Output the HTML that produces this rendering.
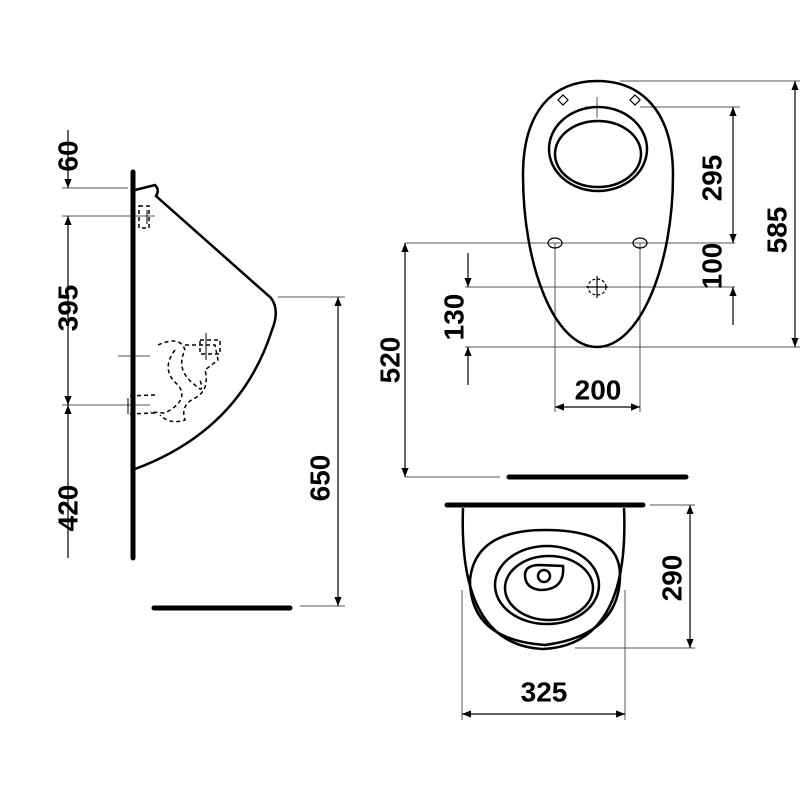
<!DOCTYPE html>
<html><head><style>html,body{margin:0;background:#fff}svg{display:block}
text{font-family:"Liberation Sans Narrow","Liberation Sans",sans-serif;font-weight:bold;font-size:28px;fill:#000;text-anchor:middle;dominant-baseline:central}</style></head>
<body>
<svg width="800" height="800" viewBox="0 0 800 800" xmlns="http://www.w3.org/2000/svg">
<defs>
<marker id="a" viewBox="0 0 10 10" refX="10" refY="5" markerWidth="12" markerHeight="9" orient="auto-start-reverse" markerUnits="userSpaceOnUse"><path d="M0,1 L10,5 L0,9Z" fill="#000"/></marker>
</defs>
<g stroke="#555" stroke-width="1" fill="none">
<line x1="62" y1="188" x2="128" y2="188"/><line x1="62" y1="216" x2="155" y2="216"/>
<line x1="62" y1="405" x2="150" y2="405"/><line x1="118" y1="356" x2="150" y2="356"/>
<line x1="278" y1="297" x2="345" y2="297"/><line x1="300" y1="606" x2="345" y2="606"/>
<line x1="620" y1="81" x2="800" y2="81"/><line x1="640" y1="107" x2="740" y2="107"/>
<line x1="405" y1="243" x2="735" y2="243"/><line x1="465" y1="287" x2="735" y2="287"/>
<line x1="465" y1="347" x2="800" y2="347"/>
<line x1="555" y1="243" x2="555" y2="412"/><line x1="640" y1="243" x2="640" y2="412"/>
<line x1="405" y1="477" x2="500" y2="477"/>
<line x1="650" y1="505" x2="695" y2="505"/><line x1="575" y1="648" x2="695" y2="648"/>
<line x1="462" y1="590" x2="462" y2="720"/><line x1="625" y1="590" x2="625" y2="720"/>
<line x1="597" y1="97" x2="597" y2="118"/><line x1="585" y1="107" x2="609" y2="107"/>
</g>
<g stroke="#000" stroke-width="1.2" fill="none">
<line x1="68" y1="130" x2="68" y2="188" marker-end="url(#a)"/>
<line x1="68" y1="216" x2="68" y2="405" marker-start="url(#a)" marker-end="url(#a)"/>
<line x1="68" y1="558" x2="68" y2="405" marker-end="url(#a)"/>
<line x1="338" y1="297" x2="338" y2="606" marker-start="url(#a)" marker-end="url(#a)"/>
<line x1="795" y1="81" x2="795" y2="347" marker-start="url(#a)" marker-end="url(#a)"/>
<line x1="733" y1="107" x2="733" y2="243" marker-start="url(#a)" marker-end="url(#a)"/>
<line x1="733" y1="325" x2="733" y2="287" marker-end="url(#a)"/>
<line x1="468" y1="253" x2="468" y2="287" marker-end="url(#a)"/>
<line x1="468" y1="385" x2="468" y2="347" marker-end="url(#a)"/>
<line x1="405" y1="243" x2="405" y2="477" marker-start="url(#a)" marker-end="url(#a)"/>
<line x1="555" y1="407" x2="640" y2="407" marker-start="url(#a)" marker-end="url(#a)"/>
<line x1="690" y1="505" x2="690" y2="648" marker-start="url(#a)" marker-end="url(#a)"/>
<line x1="462" y1="714" x2="625" y2="714" marker-start="url(#a)" marker-end="url(#a)"/>
</g>
<g stroke="#000" stroke-linecap="round" stroke-width="5">
<line x1="133" y1="172" x2="133" y2="558"/>
<line x1="154" y1="608" x2="290" y2="608"/>
<line x1="509" y1="477" x2="686" y2="477"/>
<line x1="447" y1="505" x2="643" y2="505"/>
</g>
<g stroke="#000" stroke-width="2.5" fill="none">
<path d="M135,190 L155,185 Q160,190 156,196 L271,298 Q280,310 272,330 Q240,430 135,469"/>
</g>
<g stroke="#000" stroke-width="1.5" fill="none" stroke-dasharray="4,3">
<rect x="139" y="206" width="10" height="22"/>
<path d="M158,345 Q180,335 185,350 Q175,370 195,385 Q205,395 200,380 M175,350 Q160,370 178,385 Q190,400 165,413 L150,412 M155,395 L128,396 M155,413 L128,414 M185,345 L215,345 L218,360 L205,370 Q210,390 195,398 Q180,405 185,420 Q170,425 160,415"/>
<rect x="200" y="340" width="20" height="14"/>
</g>
<g stroke="#000" stroke-width="1" fill="none">
<line x1="147" y1="210" x2="147" y2="224"/><line x1="206" y1="333" x2="206" y2="360"/><line x1="128" y1="398" x2="128" y2="414"/>
</g>
<g stroke="#000" stroke-width="2.5" fill="none">
<path d="M597,81 C642,81 673,112 673,175 C673,265 640,347 597,347 C554,347 523,265 523,175 C523,112 552,81 597,81Z"/>
<ellipse cx="598" cy="149" rx="49" ry="42"/>
<ellipse cx="598" cy="154" rx="43" ry="33"/>
</g>
<g stroke="#000" stroke-width="1.2" fill="none">
<ellipse cx="555" cy="243" rx="7" ry="5"/><ellipse cx="640" cy="243" rx="7" ry="5"/>
<ellipse cx="597" cy="287" rx="9" ry="8" stroke-dasharray="3,2"/>
<line x1="597" y1="276" x2="597" y2="298"/><line x1="586" y1="287" x2="608" y2="287"/>
<path d="M563,95 l5,5 -5,5 -5,-5z M635,95 l5,5 -5,5 -5,-5z"/>
</g>
<g stroke="#000" stroke-width="2.5" fill="none">
<path d="M463,508 Q458,645 543,649 Q630,645 624,508"/>
<path d="M470,580 Q475,530 545,530 Q620,530 620,575 Q620,635 545,645 Q470,640 470,580Z"/>
<ellipse cx="547" cy="585" rx="52" ry="39"/>
<ellipse cx="549" cy="588" rx="44" ry="32"/>
<path d="M525,575 Q525,565 540,565 L563,566 Q565,590 540,590 Q525,588 525,575Z"/>
<circle cx="544" cy="576" r="6"/>
</g>
<text transform="translate(68,156) rotate(-90)">60</text>
<text transform="translate(68,308) rotate(-90)">395</text>
<text transform="translate(68,508) rotate(-90)">420</text>
<text transform="translate(320,478) rotate(-90)">650</text>
<text transform="translate(712,178) rotate(-90)">295</text>
<text transform="translate(712,266) rotate(-90)">100</text>
<text transform="translate(777,230) rotate(-90)">585</text>
<text transform="translate(454,317) rotate(-90)">130</text>
<text transform="translate(390,360) rotate(-90)">520</text>
<text x="598" y="390">200</text>
<text transform="translate(672,578) rotate(-90)">290</text>
<text x="544" y="692">325</text>
</svg>
</body></html>
